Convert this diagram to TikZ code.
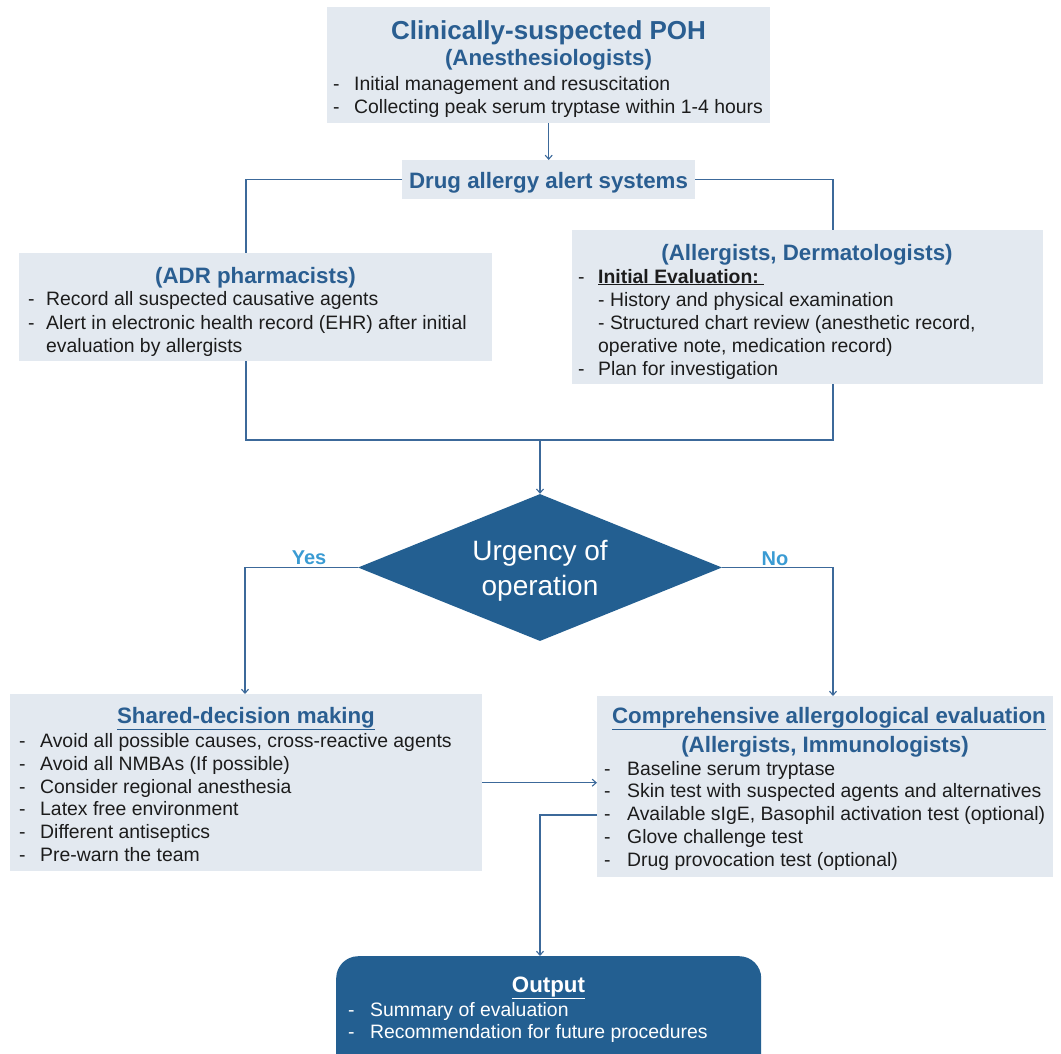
\documentclass[tikz,border=0pt]{standalone}
\usepackage{fontspec}
\setmainfont{Liberation Sans}
\usetikzlibrary{arrows.meta,shapes.geometric}
\definecolor{boxfill}{HTML}{E3E9F0}
\definecolor{titleblue}{HTML}{2A5E91}
\definecolor{bodytext}{HTML}{1C1C1C}
\definecolor{linecol}{HTML}{3C699A}
\definecolor{darkfill}{HTML}{235F91}
\definecolor{yesno}{HTML}{3A9BD3}
\tikzset{
  box/.style={fill=boxfill, draw=none, inner sep=0pt, anchor=north west},
  ttl/.style={font=\fontsize{22.3}{26}\selectfont\bfseries, text=titleblue, anchor=base, inner sep=0pt},
  bigttl/.style={font=\fontsize{26}{30}\selectfont\bfseries, text=titleblue, anchor=base, inner sep=0pt},
  txt/.style={font=\fontsize{19.4}{22}\selectfont, text=bodytext, anchor=base west, inner sep=0pt},
  wtxt/.style={txt, text=white},
  conn/.style={draw=linecol, line width=1.1pt},
  arr/.style={conn, -{Straight Barb[length=4pt,width=7pt]}},
  lbl/.style={font=\fontsize{20}{24}\selectfont\bfseries, text=yesno, anchor=base, inner sep=0pt}
}
\begin{document}
\begin{tikzpicture}[x=1pt,y=-1pt]
\useasboundingbox (0,0) rectangle (1061,1053);
% boxes
\node[box, minimum width=443pt, minimum height=116pt] (top) at (327,7) {};
\node[box, minimum width=293pt, minimum height=39pt] (drug) at (402,160) {};
\node[box, minimum width=473pt, minimum height=108pt] (adr) at (19,253) {};
\node[box, minimum width=471pt, minimum height=154pt] (alg) at (572,230) {};
\node[box, minimum width=472pt, minimum height=177pt] (shared) at (10,694) {};
\node[box, minimum width=456pt, minimum height=181pt] (comp) at (597,696) {};
\node[fill=darkfill, draw=none, rounded corners=22pt, inner sep=0pt, anchor=north west,
      minimum width=425pt, minimum height=120pt] (out) at (336,956) {};
\node[diamond, fill=darkfill, draw=none, inner sep=0pt, minimum width=364pt, minimum height=147pt,
      aspect=2.48] (dia) at (540,567.5) {};
% top box text
\node[bigttl] (t1) at (548.5,39) {Clinically-suspected POH};
\node[ttl] (t2) at (548.5,65) {(Anesthesiologists)};
\node[txt] (t3d) at (333,90) {-};
\node[txt] (t3) at (354,90) {Initial management and resuscitation};
\node[txt] (t4d) at (333,113) {-};
\node[txt] (t4) at (354,113) {Collecting peak serum tryptase within 1-4 hours};
% drug
\node[ttl] (t5) at (548.5,188) {Drug allergy alert systems};
% ADR
\node[ttl] (t6) at (255.5,283) {(ADR pharmacists)};
\node[txt] (t7d) at (28,305) {-};
\node[txt] (t7) at (46,305) {Record all suspected causative agents};
\node[txt] (t8d) at (28,329) {-};
\node[txt] (t8) at (46,329) {Alert in electronic health record (EHR) after initial};
\node[txt] (t9) at (46,352) {evaluation by allergists};
% allergists
\node[ttl] (t10) at (807,260) {(Allergists, Dermatologists)};
\node[txt] (t11d) at (578,283) {-};
\node[txt, font=\fontsize{19.4}{22}\selectfont\bfseries] (t11) at (598,283) {\underline{Initial Evaluation:\ }};
\node[txt] (t12) at (598,306) {- History and physical examination};
\node[txt] (t13) at (598,329) {- Structured chart review (anesthetic record,};
\node[txt] (t14) at (598,352) {operative note, medication record)};
\node[txt] (t15d) at (578,375) {-};
\node[txt] (t15) at (598,375) {Plan for investigation};
% diamond text
\node[font=\fontsize{28}{32}\selectfont, text=white, anchor=base, inner sep=0pt] (d1) at (540,560) {Urgency of};
\node[font=\fontsize{28}{32}\selectfont, text=white, anchor=base, inner sep=0pt] (d2) at (540,595) {operation};
\node[lbl] (yes) at (309,564) {Yes};
\node[lbl] (no) at (775,565) {No};
% shared
\node[ttl] (s0) at (246,723) {\underline{Shared-decision making}};
\foreach \y/\t [count=\i] in {747/{Avoid all possible causes, cross-reactive agents},770/{Avoid all NMBAs (If possible)},793/{Consider regional anesthesia},815/{Latex free environment},838/{Different antiseptics},861/{Pre-warn the team}}{
  \node[txt] (sd\i) at (19,\y) {-};
  \node[txt] (s\i) at (40,\y) {\t};
}
% comprehensive
\node[ttl] (c0) at (829,723) {\underline{Comprehensive allergological evaluation}};
\node[ttl] (c00) at (825,752) {(Allergists, Immunologists)};
\foreach \y/\t [count=\i] in {775/{Baseline serum tryptase},797/{Skin test with suspected agents and alternatives},820/{Available sIgE, Basophil activation test (optional)},843/{Glove challenge test},866/{Drug provocation test (optional)}}{
  \node[txt] (cd\i) at (604,\y) {-};
  \node[txt] (c\i) at (627,\y) {\t};
}
% output
\node[ttl, text=white] (o0) at (548.5,992) {\underline{Output}};
\node[wtxt] (o1d) at (348,1016) {-};
\node[wtxt] (o1) at (370,1016) {Summary of evaluation};
\node[wtxt] (o2d) at (348,1038) {-};
\node[wtxt] (o2) at (370,1038) {Recommendation for future procedures};
% connectors
\coordinate (xl) at (246,0);
\coordinate (xr) at (833,0);
\coordinate (xm) at (540,0);
\coordinate (jy) at (0,440);
\draw[arr] (top.south) -- (drug.north);
\draw[conn] (drug.west) -| (adr.north -| xl);
\draw[conn] (drug.east) -| (alg.north -| xr);
\draw[conn] (adr.south -| xl) -- (jy -| xl) -- (jy -| xr) -- (alg.south -| xr);
\draw[arr] (jy -| xm) -- (dia.north);
\draw[arr] (dia.west) -| ([xshift=-1pt]shared.north -| xl);
\draw[arr] (dia.east) -| (comp.north -| xr);
\draw[arr] (shared.east) -- (comp.west |- shared.east);
\coordinate (cy) at (0,815);
\draw[arr] (comp.west |- cy) -| (out.north -| xm);
\end{tikzpicture}
\end{document}
